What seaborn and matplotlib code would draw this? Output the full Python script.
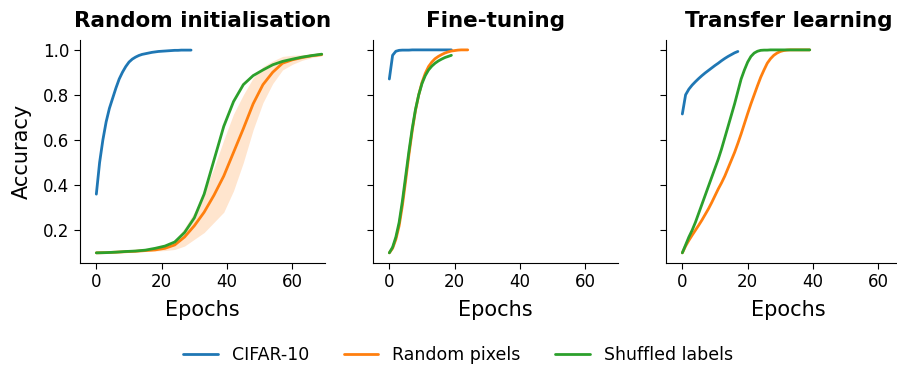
#!/usr/bin/env python3

import numpy as np
import pandas as pd
import matplotlib
matplotlib.use("Agg")
import matplotlib.pyplot as plt
from matplotlib.lines import Line2D
import seaborn as sns

SERIES = ["CIFAR-10", "Random pixels", "Shuffled labels"]
PANELS = ["Random initialisation", "Fine-tuning", "Transfer learning"]
COLORS = ["#1f77b4", "#ff7f0e", "#2ca02c"]

# --- Random initialisation ---
rand_cifar = [0.36, 0.50, 0.60, 0.68, 0.74, 0.785, 0.83, 0.87, 0.90, 0.925,
              0.945, 0.958, 0.967, 0.974, 0.979, 0.982, 0.985, 0.988, 0.99, 0.992,
              0.993, 0.994, 0.995, 0.996, 0.997, 0.997, 0.998, 0.998, 0.998, 0.998]
rand_epochs_slow = list(range(0, 70, 3))
rand_pixels = [0.10, 0.101, 0.103, 0.105, 0.107, 0.11, 0.113, 0.12, 0.135, 0.17,
               0.22, 0.28, 0.355, 0.44, 0.545, 0.65, 0.76, 0.845, 0.90, 0.94,
               0.955, 0.965, 0.973, 0.978]
rand_pixels_sd = [0.002, 0.002, 0.003, 0.003, 0.003, 0.004, 0.005, 0.01, 0.02, 0.04,
                  0.06, 0.09, 0.12, 0.16, 0.17, 0.15, 0.115, 0.08, 0.05, 0.03,
                  0.02, 0.012, 0.008, 0.005]
rand_labels = [0.10, 0.101, 0.103, 0.106, 0.108, 0.112, 0.12, 0.13, 0.148, 0.19,
               0.255, 0.36, 0.51, 0.66, 0.77, 0.845, 0.885, 0.91, 0.933, 0.948,
               0.958, 0.967, 0.974, 0.98]

# --- Fine-tuning ---
fine_cifar = [0.87, 0.975, 0.993, 0.997, 0.998, 0.998, 0.998, 0.999, 0.999, 0.999,
              0.999, 0.999, 0.999, 0.999, 0.999, 0.999, 0.999, 0.999, 0.999, 0.999]
fine_pixels = [0.10, 0.12, 0.16, 0.22, 0.31, 0.42, 0.535, 0.64, 0.73, 0.80,
               0.855, 0.895, 0.925, 0.945, 0.96, 0.97, 0.978, 0.985, 0.99, 0.994,
               0.996, 0.998, 0.999, 0.999, 0.999]
fine_labels = [0.10, 0.125, 0.17, 0.235, 0.33, 0.44, 0.55, 0.65, 0.735, 0.80,
               0.85, 0.885, 0.91, 0.927, 0.94, 0.95, 0.958, 0.965, 0.97, 0.975]

# --- Transfer learning ---
trans_cifar = [0.715, 0.80, 0.825, 0.843, 0.858, 0.872, 0.885, 0.897, 0.908, 0.919,
               0.93, 0.94, 0.951, 0.961, 0.97, 0.978, 0.986, 0.992]
trans_pixels = [0.10, 0.13, 0.155, 0.178, 0.20, 0.222, 0.245, 0.27, 0.295, 0.323,
                0.353, 0.383, 0.41, 0.44, 0.475, 0.51, 0.545, 0.585, 0.627, 0.672,
                0.717, 0.76, 0.80, 0.84, 0.878, 0.91, 0.94, 0.96, 0.975, 0.985,
                0.992, 0.996, 0.998, 0.999, 0.999, 0.999, 0.999, 0.999, 0.999, 0.999]
trans_labels = [0.10, 0.135, 0.17, 0.20, 0.235, 0.275, 0.315, 0.355, 0.395, 0.435,
                0.475, 0.515, 0.56, 0.61, 0.66, 0.71, 0.76, 0.815, 0.87, 0.91,
                0.945, 0.97, 0.985, 0.993, 0.997, 0.998, 0.998, 0.999, 0.999, 0.999,
                0.999, 0.999, 0.999, 0.999, 0.999, 0.999, 0.999, 0.999, 0.999, 0.999]


def frame(panel, name, acc, epochs=None):
    if epochs is None:
        epochs = list(range(len(acc)))
    return pd.DataFrame({"panel": panel, "dataset": name, "epoch": epochs, "acc": acc})


df = pd.concat([
    frame(PANELS[0], SERIES[0], rand_cifar),
    frame(PANELS[0], SERIES[1], rand_pixels, rand_epochs_slow),
    frame(PANELS[0], SERIES[2], rand_labels, rand_epochs_slow),
    frame(PANELS[1], SERIES[0], fine_cifar),
    frame(PANELS[1], SERIES[1], fine_pixels),
    frame(PANELS[1], SERIES[2], fine_labels),
    frame(PANELS[2], SERIES[0], trans_cifar),
    frame(PANELS[2], SERIES[1], trans_pixels),
    frame(PANELS[2], SERIES[2], trans_labels),
], ignore_index=True)

sns.set_style("ticks")
plt.rcParams["font.family"] = ["DejaVu Sans"]
for key in ["text.color", "axes.labelcolor", "xtick.color", "ytick.color", "axes.edgecolor"]:
    plt.rcParams[key] = "black"

fig = plt.figure(figsize=(8.97, 3.69), dpi=100)
W, H = 897, 369
lefts = [80, 373, 666]
axes = []
for i, left in enumerate(lefts):
    ax = fig.add_axes([left / W, (H - 263) / H, 245 / W, (263 - 39.5) / H],
                      sharey=axes[0] if axes else None)
    axes.append(ax)

palette = dict(zip(SERIES, COLORS))
for i, (ax, panel) in enumerate(zip(axes, PANELS)):
    sub = df[df["panel"] == panel]
    if i == 0:
        lo = np.array(rand_pixels) - np.array(rand_pixels_sd)
        hi = np.array(rand_pixels) + np.array(rand_pixels_sd)
        ax.fill_between(rand_epochs_slow, lo, hi, color=COLORS[1], alpha=0.2, lw=0)
    sns.lineplot(data=sub, x="epoch", y="acc", hue="dataset", palette=palette,
                 hue_order=SERIES, lw=2, ax=ax, legend=False, errorbar=None)
    ax.set_xlim(-5, 70)
    ax.set_xticks([0, 20, 40, 60])
    ax.set_title(panel, fontsize=15.5, fontweight="bold", pad=9)
    ax.set_xlabel("Epochs", fontsize=15, labelpad=6)
    ax.tick_params(labelsize=12, length=4, color="black")
    sns.despine(ax=ax)
    if i == 0:
        ax.set_ylabel("Accuracy", fontsize=15, labelpad=8)
    else:
        ax.set_ylabel("")
        ax.tick_params(labelleft=False)

axes[0].set_ylim(0.055, 1.045)
axes[0].set_yticks([0.2, 0.4, 0.6, 0.8, 1.0])

handles = [Line2D([], [], color=c, lw=2) for c in COLORS]
fig.legend(handles, SERIES, loc="center", bbox_to_anchor=(458 / W, 14 / H),
           ncol=3, frameon=False, fontsize=12.5)

plt.savefig("out.png", dpi=100)
